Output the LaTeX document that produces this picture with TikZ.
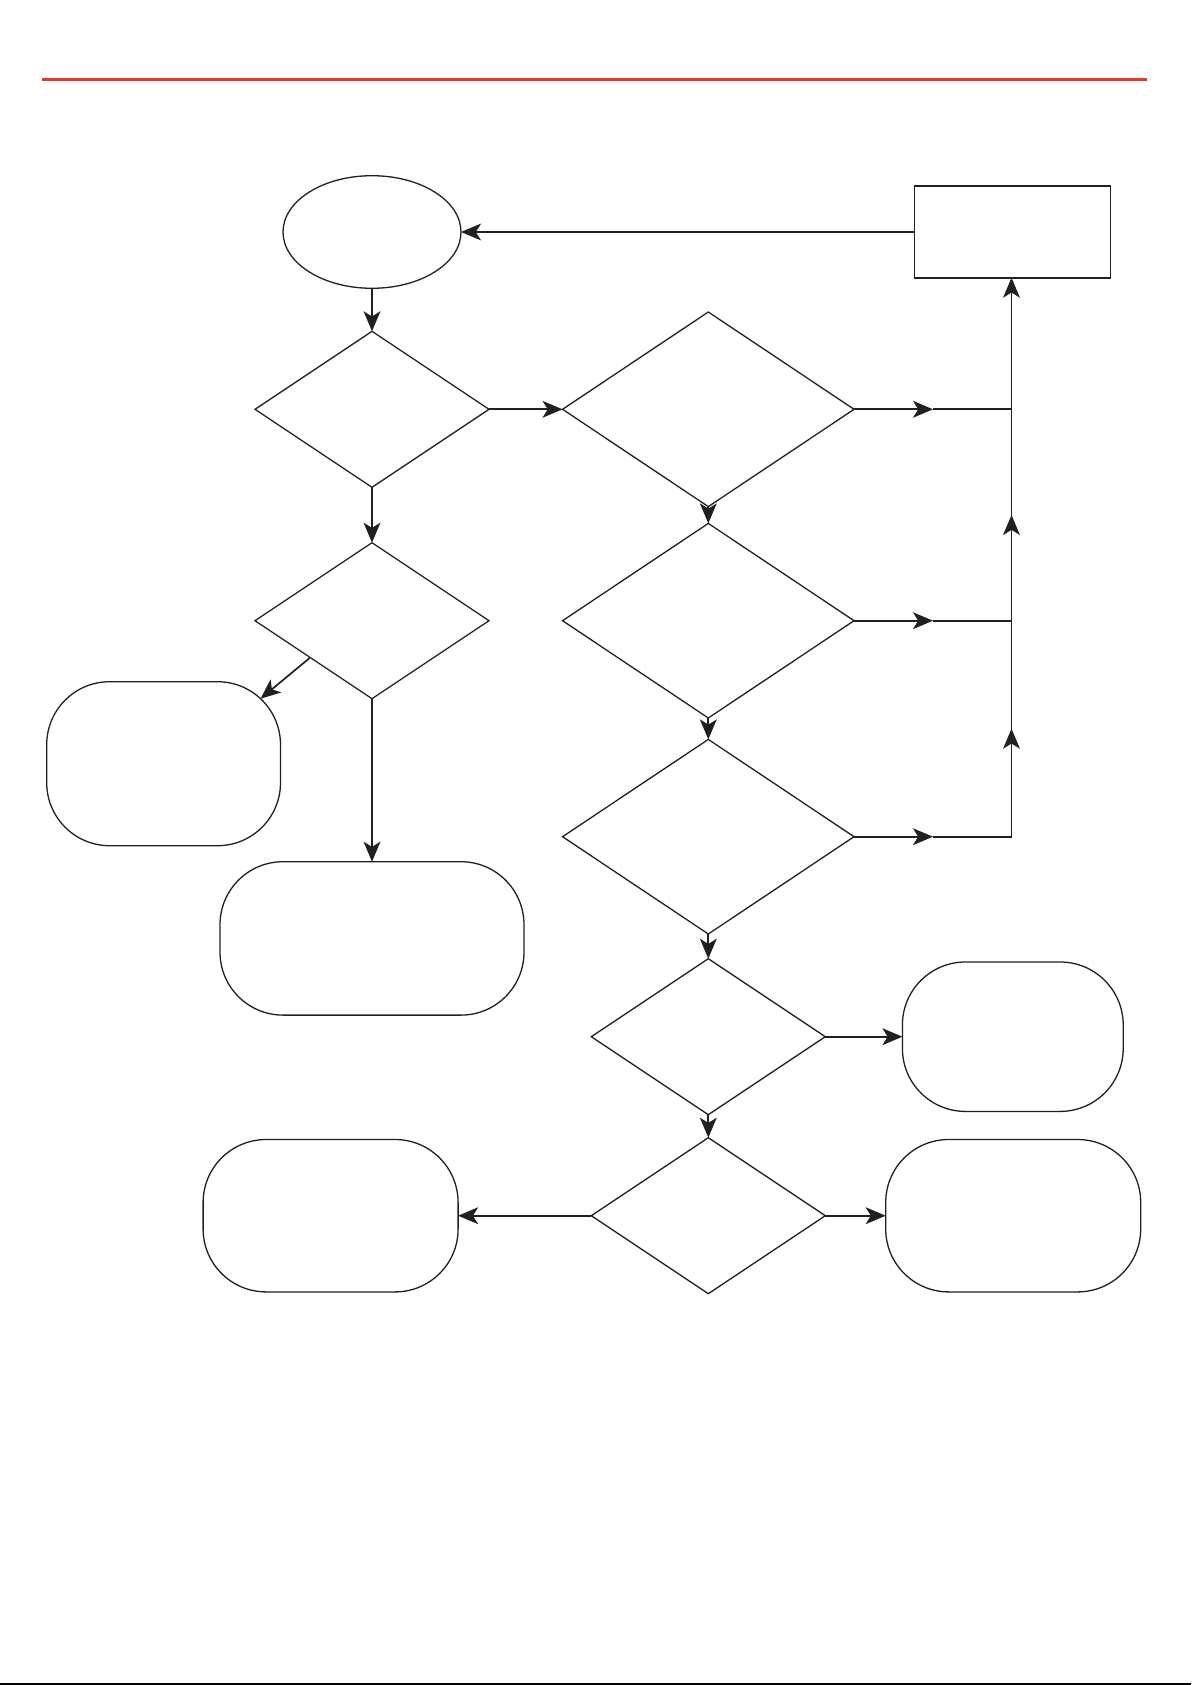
\documentclass[tikz,border=0pt]{standalone}
\usetikzlibrary{shapes.geometric,arrows.meta,calc}
\definecolor{topred}{RGB}{237,50,36}
\definecolor{ink}{RGB}{35,31,32}
\begin{document}
\begin{tikzpicture}[x=0.5pt,y=-0.5pt,
  shp/.style={draw=ink,line width=0.65pt,inner sep=0pt,outer sep=0pt},
  decbig/.style={shp,shape=diamond,minimum width=145.75pt,minimum height=97.3pt},
  decsmall/.style={shp,shape=diamond,minimum width=117pt,minimum height=78pt},
  endbox/.style={shp,rectangle,rounded corners=31.5pt},
  conn/.style={draw=ink,line width=0.85pt},
  arr/.style={conn,-{Stealth[length=10pt,width=8.4pt,inset=2.6pt]}}]
\useasboundingbox (0,0) rectangle (1191,1685);
\fill[white] (0,0) rectangle (1191,1685);
% header and footer rules
\coordinate (rl) at (41.8,79.3);
\coordinate (rr) at (1147,79.3);
\draw[topred,line width=1.5pt] (rl) -- (rr);
\fill[black] (0,1683) rectangle (1191,1685);
% nodes
\node[shp,ellipse,minimum width=89pt,minimum height=56.3pt] (E) at (372,232) {};
\node[shp,rectangle,line width=0.9pt,minimum width=98pt,minimum height=45.7pt] (B) at (1012.5,232) {};
\node[decsmall] (D1) at (372,409.3) {};
\node[decsmall] (D2) at (372,620.7) {};
\node[decbig] (D3) at (708.3,409.3) {};
\node[decbig] (D4) at (708.3,620.7) {};
\node[decbig] (D5) at (708.3,836.7) {};
\node[decsmall] (D6) at (708.3,1036.7) {};
\node[decsmall] (D7) at (708.3,1215.7) {};
\node[endbox,minimum width=116.9pt,minimum height=82pt] (L1) at (163.6,763.7) {};
\node[endbox,minimum width=152pt,minimum height=76.7pt] (C) at (372,938.4) {};
\node[endbox,minimum width=110.4pt,minimum height=74.7pt] (R1) at (1012.8,1036.7) {};
\node[endbox,minimum width=127.5pt,minimum height=76.2pt] (L2) at (330.6,1215.7) {};
\node[endbox,minimum width=127.5pt,minimum height=76.2pt] (R2) at (1013.2,1215.7) {};
% junctions
\coordinate (j3) at (1011.5,409.3);
\coordinate (j4) at (1011.5,620.7);
\coordinate (j5) at (1011.5,836.7);
\coordinate (a3) at (933,409.3);
\coordinate (a4) at (933,620.7);
\coordinate (a5) at (933,836.7);
\coordinate (jb) at (1011.5,277.7);
% connectors
\draw[arr] (B.west) -- (E.east);
\draw[arr] (E.south) -- (D1.north);
\draw[arr] (D1.south) -- (D2.north);
\draw[arr] (D1.east) -- (D3.west);
\coordinate (s2) at ($(D2.west)!0.472!(D2.south)$);
\coordinate (L1a) at ($(L1.north east)+(-20,17)$);
\draw[arr] (s2) -- (L1a);
\draw[arr] (D2.south) -- (C.north);
\draw[arr] (D3.south) -- (D4.north);
\draw[arr] (D4.south) -- (D5.north);
\draw[arr] (D5.south) -- (D6.north);
\draw[arr] (D6.south) -- (D7.north);
\draw[arr] (D3.east) -- (a3);
\draw[arr] (D4.east) -- (a4);
\draw[arr] (D5.east) -- (a5);
\draw[conn] (a3) -- (j3);
\draw[conn] (a4) -- (j4);
\draw[conn] (a5) -- (j5) -- (j4) -- (j3);
\draw[arr] (j5) -- ($(j5)!0.5!(j4)$);
\draw[arr] (j4) -- ($(j4)!0.5!(j3)$);
\draw[arr] (j3) -- (jb);
\draw[arr] (D6.east) -- (R1.west);
\draw[arr] (D7.west) -- (L2.east);
\draw[arr] (D7.east) -- (R2.west);
\end{tikzpicture}
\end{document}
